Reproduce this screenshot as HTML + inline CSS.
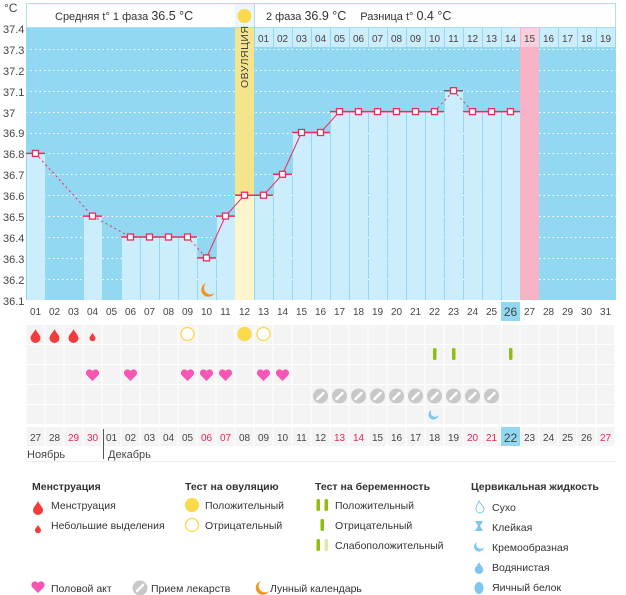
<!DOCTYPE html>
<html><head><meta charset="utf-8"><style>
body{margin:0;background:#fff;}
svg{display:block;font-family:"Liberation Sans","DejaVu Sans",sans-serif;}
</style></head><body>
<svg id="s" width="626" height="595" viewBox="0 0 626 595" xmlns="http://www.w3.org/2000/svg">
<rect x="0" y="0" width="626" height="595" fill="#fff"/>
<rect x="26" y="28" width="590" height="272" fill="#93d8f2"/>
<g id="grid"></g>
<g id="bars"></g>
<g id="line"></g>
<!-- header -->
<rect x="26.5" y="3.5" width="589" height="24" fill="#fff" stroke="#a9dff3"/>
<rect x="235" y="4" width="19" height="23" fill="#eaf6fc"/>
<circle cx="244.5" cy="16" r="7" fill="#fad94a"/>
<line x1="254.5" y1="4" x2="254.5" y2="27" stroke="#a9dff3"/>
<text x="55" y="20" font-size="11" fill="#333">Средняя t° 1 фаза <tspan font-size="12.5">36.5 °C</tspan></text>
<text x="266" y="20" font-size="11" fill="#333">2 фаза <tspan font-size="12.5">36.9 °C</tspan><tspan dx="14">Разница t°</tspan> <tspan font-size="12.5">0.4 °C</tspan></text>
<text transform="translate(248,88) rotate(-90)" font-size="10.5" fill="#444" letter-spacing="0.5">ОВУЛЯЦИЯ</text>
<!-- y axis -->
<g font-size="11" fill="#444">
<text x="4" y="12" font-size="12">°C</text>
<text x="3" y="33">37.4</text><text x="3" y="54">37.3</text><text x="3" y="75">37.2</text><text x="3" y="96">37.1</text><text x="3" y="117">37</text><text x="3" y="137">36.9</text><text x="3" y="158">36.8</text><text x="3" y="179">36.7</text><text x="3" y="200">36.6</text><text x="3" y="221">36.5</text><text x="3" y="242">36.4</text><text x="3" y="263">36.3</text><text x="3" y="284">36.2</text><text x="3" y="305">36.1</text>
</g>
<!-- phase2 top numbers -->
<g font-size="10" fill="#444" text-anchor="middle">
<text x="263.5" y="42">01</text><text x="282.5" y="42">02</text><text x="301.5" y="42">03</text><text x="320.5" y="42">04</text><text x="339.5" y="42">05</text><text x="358.5" y="42">06</text><text x="377.5" y="42">07</text><text x="396.5" y="42">08</text><text x="415.5" y="42">09</text><text x="434.5" y="42">10</text><text x="453.5" y="42">11</text><text x="472.5" y="42">12</text><text x="491.5" y="42">13</text><text x="510.5" y="42">14</text><text x="529.5" y="42">15</text><text x="548.5" y="42">16</text><text x="567.5" y="42">17</text><text x="586.5" y="42">18</text><text x="605.5" y="42">19</text>
</g>
<!-- lower table -->
<g id="cells"></g>
<rect x="501" y="302" width="19" height="19" fill="#93d8f2"/>
<rect x="501" y="427" width="19" height="19" fill="#93d8f2"/>
<g font-size="10" fill="#444" text-anchor="middle">
<text x="35.5" y="315">01</text><text x="54.5" y="315">02</text><text x="73.5" y="315">03</text><text x="92.5" y="315">04</text><text x="111.5" y="315">05</text><text x="130.5" y="315">06</text><text x="149.5" y="315">07</text><text x="168.5" y="315">08</text><text x="187.5" y="315">09</text><text x="206.5" y="315">10</text><text x="225.5" y="315">11</text><text x="244.5" y="315">12</text><text x="263.5" y="315">13</text><text x="282.5" y="315">14</text><text x="301.5" y="315">15</text><text x="320.5" y="315">16</text><text x="339.5" y="315">17</text><text x="358.5" y="315">18</text><text x="377.5" y="315">19</text><text x="396.5" y="315">20</text><text x="415.5" y="315">21</text><text x="434.5" y="315">22</text><text x="453.5" y="315">23</text><text x="472.5" y="315">24</text><text x="491.5" y="315">25</text><text x="510.5" y="316" font-size="12">26</text><text x="529.5" y="315">27</text><text x="548.5" y="315">28</text><text x="567.5" y="315">29</text><text x="586.5" y="315">30</text><text x="605.5" y="315">31</text>
</g>
<g font-size="10" fill="#444" text-anchor="middle">
<text x="35.5" y="441">27</text><text x="54.5" y="441">28</text><text x="73.5" y="441" fill="#ee2255">29</text><text x="92.5" y="441" fill="#ee2255">30</text><text x="111.5" y="441">01</text><text x="130.5" y="441">02</text><text x="149.5" y="441">03</text><text x="168.5" y="441">04</text><text x="187.5" y="441">05</text><text x="206.5" y="441" fill="#ee2255">06</text><text x="225.5" y="441" fill="#ee2255">07</text><text x="244.5" y="441">08</text><text x="263.5" y="441">09</text><text x="282.5" y="441">10</text><text x="301.5" y="441">11</text><text x="320.5" y="441">12</text><text x="339.5" y="441" fill="#ee2255">13</text><text x="358.5" y="441" fill="#ee2255">14</text><text x="377.5" y="441">15</text><text x="396.5" y="441">16</text><text x="415.5" y="441">17</text><text x="434.5" y="441">18</text><text x="453.5" y="441">19</text><text x="472.5" y="441" fill="#ee2255">20</text><text x="491.5" y="441" fill="#ee2255">21</text><text x="510.5" y="442" font-size="12">22</text><text x="529.5" y="441">23</text><text x="548.5" y="441">24</text><text x="567.5" y="441">25</text><text x="586.5" y="441">26</text><text x="605.5" y="441" fill="#ee2255">27</text>
</g>
<line x1="103.5" y1="429" x2="103.5" y2="459" stroke="#555"/>
<text x="27" y="458" font-size="11" fill="#444">Ноябрь</text>
<text x="108" y="458" font-size="11" fill="#444">Декабрь</text>
<line x1="26" y1="461.5" x2="616" y2="461.5" stroke="#eee"/>
<g id="icons"></g>
<!-- legend -->
<g font-size="10.5" fill="#333">
<text x="32" y="490" font-weight="bold">Менструация</text>
<text x="51" y="509">Менструация</text>
<text x="51" y="529">Небольшие выделения</text>
<text x="185" y="490" font-weight="bold">Тест на овуляцию</text>
<text x="205" y="509">Положительный</text>
<text x="205" y="529">Отрицательный</text>
<text x="315" y="490" font-weight="bold">Тест на беременность</text>
<text x="335" y="509">Положительный</text>
<text x="335" y="529">Отрицательный</text>
<text x="335" y="549">Слабоположительный</text>
<text x="471" y="490" font-weight="bold">Цервикальная жидкость</text>
<text x="492" y="511">Сухо</text>
<text x="492" y="531">Клейкая</text>
<text x="492" y="551">Кремообразная</text>
<text x="492" y="571">Водянистая</text>
<text x="492" y="591">Яичный белок</text>
<text x="51" y="592">Половой акт</text>
<text x="151" y="592">Прием лекарств</text>
<text x="270" y="592">Лунный календарь</text>
</g>
</svg>
<script>
var NS="http://www.w3.org/2000/svg";
function el(p,t,a){var e=document.createElementNS(NS,t);for(var k in a)e.setAttribute(k,a[k]);document.getElementById(p).appendChild(e);return e;}
function X(i){return 26+19*(i-1);}function C(i){return 35.5+19*(i-1);}
function Y(t){return 28+(37.4-t)*209;}
for(var k=1;k<=12;k++){var y=Math.round(28+20.9*k)+0.5;el('grid','line',{x1:26,x2:616,y1:y,y2:y,stroke:'#fff','stroke-dasharray':'1.5,3','stroke-width':1});}
var T={1:36.8,4:36.5,6:36.4,7:36.4,8:36.4,9:36.4,10:36.3,11:36.5,12:36.6,13:36.6,14:36.7,15:36.9,16:36.9,17:37,18:37,19:37,20:37,21:37,22:37,23:37.1,24:37,25:37,26:37};
el('bars','rect',{x:X(12),y:28,width:19,height:272,fill:'#f4e48c'});
el('bars','rect',{x:X(27),y:28,width:19,height:272,fill:'#f9b3c6'});
for(var i in T){i=+i;var y=Y(T[i]);el('bars','rect',{x:X(i)+(i==12?0:1),y:y,width:i==12?19:18,height:300-y,fill:i==12?'#fdf5cb':'#cbedfc'});}
for(var i=13;i<=31;i++){el('bars','rect',{x:X(i)+1,y:28,width:18,height:19,fill:i==27?'#fbd0dc':'#cbedfc'});}
el('bars','line',{x1:26.5,x2:26.5,y1:28,y2:300,stroke:'#93d8f2'});
// line
var pts=[1,4,6,7,8,9,10,11,12,13,14,15,16,17,18,19,20,21,22,23,24,25,26];
for(var j=0;j<pts.length-1;j++){var a=pts[j],b=pts[j+1];var dash=(b-a>1||a==9||a==22||a==23)?'2,3':'';
el('line','line',{x1:C(a),y1:Y(T[a]),x2:C(b),y2:Y(T[b]),stroke:'#ee2a5a','stroke-width':1,'stroke-dasharray':dash});}
for(var j=0;j<pts.length;j++){var i=pts[j],y=Y(T[i]);
el('line','line',{x1:X(i),x2:X(i)+19,y1:y,y2:y,stroke:i==23?'#666':'#ee2a5a','stroke-width':1.5});
el('line','rect',{x:C(i)-3,y:y-3,width:6,height:6,fill:'#fff',stroke:'#ee2a5a','stroke-width':1.3});}
// cells
var rows=[325,345,365,385,405,427];
for(var r=0;r<rows.length;r++)for(var i=1;i<=31;i++){el('cells','rect',{x:X(i)+0.5,y:rows[r],width:18,height:r==5?19:19,fill:'#f4f4f4'});}
function drop(x,y,s,c){el('icons','path',{d:'M'+x+' '+(y-7*s)+' C'+(x+1*s)+' '+(y-4*s)+' '+(x+5*s)+' '+(y-1*s)+' '+(x+5*s)+' '+(y+2*s)+' A'+5*s+' '+5*s+' 0 0 1 '+(x-5*s)+' '+(y+2*s)+' C'+(x-5*s)+' '+(y-1*s)+' '+(x-1*s)+' '+(y-4*s)+' '+x+' '+(y-7*s)+'Z',fill:c});}
function heart(x,y){el('icons','path',{d:'M'+x+' '+(y+6)+' L'+(x-6)+' '+(y)+' A3.3 3.3 0 0 1 '+x+' '+(y-4)+' A3.3 3.3 0 0 1 '+(x+6)+' '+y+' Z',fill:'#f855b4'});}
function pill(x,y){el('icons','circle',{cx:x,cy:y,r:7.5,fill:'#c8c8c8'});el('icons','line',{x1:x-3,y1:y+3,x2:x+3,y2:y-3,stroke:'#fff','stroke-width':2.5,'stroke-linecap':'round'});}
function circ(x,y,f){el('icons','circle',{cx:x,cy:y,r:6.5,fill:f?'#fad94a':'#fff',stroke:'#fad94a','stroke-width':1.3});}
function bar(x,y,c){el('icons','rect',{x:x-1.5,y:y-6,width:3.5,height:12,rx:1.5,fill:c});}
function moon(x,y){el('icons','path',{d:'M'+(x-1)+' '+(y-7)+' A7 7 0 1 0 '+(x+7)+' '+(y+3)+' A6 6 0 0 1 '+(x-1)+' '+(y-7)+'Z',fill:'#f7941d'});}
[1,2,3].forEach(function(i){drop(C(i),336,1,'#f23c3c');});drop(C(4),337,0.6,'#f23c3c');
circ(C(9),334);circ(C(13),334);circ(C(12),334,1);
[22,23,26].forEach(function(i){bar(C(i),354,'#8fbe0f');});
[4,6,9,10,11,13,14].forEach(function(i){heart(C(i),375);});
for(var i=16;i<=25;i++)pill(C(i),396);
el('icons','path',{d:'M'+(C(22)-3)+' 410 A5 5 0 1 0 '+(C(22)+4)+' 415 A4 4 0 0 1 '+(C(22)-3)+' 410Z',fill:'#7cc6f0'});
moon(C(10)+1,290);
// legend icons
drop(38,508,1,'#f23c3c');drop(38,529,0.6,'#f23c3c');
circ(192,505,1);circ(192,525);
bar(318,505,'#8fbe0f');bar(326,505,'#8fbe0f');bar(322,525,'#8fbe0f');bar(318,545,'#8fbe0f');bar(326,545,'#dfe8b0');
heart(38,587);pill(140,588);moon(262,588);
el('icons','path',{d:'M479 501 C480 504 484 506 484 509 A4 4 0 0 1 476 509 C476 506 478 504 479 501Z',fill:'none',stroke:'#7cc6f0'});
el('icons','path',{d:'M475 521 L483 521 L480 526 L483 531 L475 531 L478 526Z',fill:'#7cc6f0'});
el('icons','path',{d:'M477 542 A5 5 0 1 0 484 547 A4 4 0 0 1 477 542Z',fill:'#7cc6f0'});
drop(479,568,0.85,'#7cc6f0');
el('icons','ellipse',{cx:479,cy:588,rx:4.5,ry:6,fill:'#7cc6f0'});
</script>
</body></html>
